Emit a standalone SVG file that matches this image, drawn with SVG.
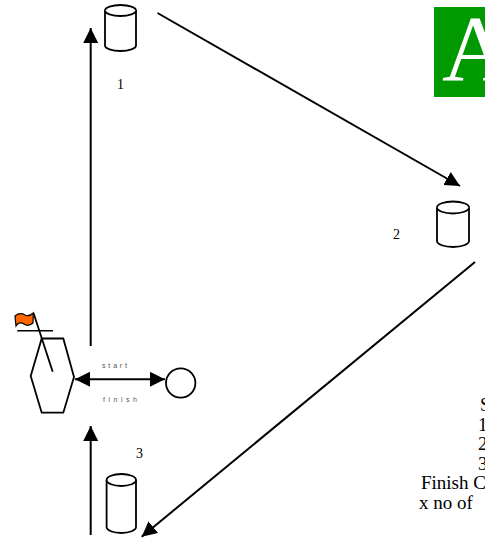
<svg xmlns="http://www.w3.org/2000/svg" width="485" height="545" viewBox="0 0 485 545">
<defs>
<style>
.cyl{fill:#fff;stroke:#000;stroke-width:1.8}
.conn{fill:none;stroke:#000;stroke-width:2}
.lbl{font-family:"Liberation Serif","Times New Roman",serif;font-size:14px;fill:#000}
.note{font-family:"Liberation Serif","Times New Roman",serif;font-size:19px;fill:#000}
.tiny{font-family:"Liberation Sans",Arial,sans-serif;font-size:7px;fill:#555}
</style>
<marker id="ah" markerUnits="userSpaceOnUse" markerWidth="16" markerHeight="16" refX="15" refY="7.5" orient="auto-start-reverse">
<path d="M0,0 L15,7.5 L0,15 z" fill="#000"/>
</marker>
</defs>
<rect width="485" height="545" fill="#fff"/>

<g id="logo">
<rect x="434" y="7" width="51" height="90" fill="#009900"/>
<text x="442" y="80" font-family="'Liberation Serif','Times New Roman',serif" font-size="94" fill="#fff">A</text>
</g>

<g id="connectors">
<line class="conn" x1="90.7" y1="346" x2="90.7" y2="28" marker-end="url(#ah)"/>
<line class="conn" x1="157.5" y1="13" x2="460" y2="186" marker-end="url(#ah)"/>
<line class="conn" x1="475" y1="262" x2="141.7" y2="536.7" marker-end="url(#ah)"/>
<line class="conn" x1="90.7" y1="535" x2="90.7" y2="426" marker-end="url(#ah)"/>
<line class="conn" x1="75" y1="379.3" x2="165" y2="379.3" marker-start="url(#ah)" marker-end="url(#ah)"/>
</g>

<g id="cone1">
<path class="cyl" d="M105,10.5 A15.5,5.5 0 0 1 136,10.5 L136,45.5 A15.5,5.5 0 0 1 105,45.5 Z"/>
<path class="cyl" fill="none" d="M105,10.5 A15.5,5.5 0 0 0 136,10.5"/>
<text class="lbl" x="117" y="89">1</text>
</g>

<g id="cone2">
<path class="cyl" d="M437,207.5 A16,6 0 0 1 469,207.5 L469,241 A16,6 0 0 1 437,241 Z"/>
<path class="cyl" fill="none" d="M437,207.5 A16,6 0 0 0 469,207.5"/>
<text class="lbl" x="393" y="239">2</text>
</g>

<g id="cone3">
<path class="cyl" d="M106.6,480 A14.7,6 0 0 1 136,480 L136,527 A14.7,6 0 0 1 106.6,527 Z"/>
<path class="cyl" fill="none" d="M106.6,480 A14.7,6 0 0 0 136,480"/>
<text class="lbl" x="136" y="458">3</text>
</g>

<g id="hole">
<circle cx="180.7" cy="383" r="14.7" fill="#fff" stroke="#000" stroke-width="1.8"/>
</g>

<g id="tee">
<polygon points="41.7,338.5 63.3,338.5 74,377 63.3,412.7 41.7,412.7 30.7,376" fill="#fff" stroke="#000" stroke-width="1.8"/>
<line x1="17.3" y1="330.7" x2="53" y2="330.7" stroke="#000" stroke-width="1.5"/>
<line x1="33.5" y1="313" x2="52.7" y2="371.7" stroke="#000" stroke-width="1.8"/>
<path d="M15,316 Q20,312 25,315 Q29,317 33.3,313 L33,323 Q28,327 24,324 Q19,321 16,326 Z" fill="#ff6600" stroke="#000" stroke-width="1.2"/>
<text class="tiny" x="102" y="368" textLength="25" lengthAdjust="spacing">start</text>
<text class="tiny" x="103" y="402" textLength="34" lengthAdjust="spacing">finish</text>
</g>

<g id="notes">
<text class="note" x="480" y="411">S</text>
<text class="note" x="478" y="430.5">1</text>
<text class="note" x="478" y="450">2</text>
<text class="note" x="478" y="469.5">3</text>
<text class="note" x="421" y="489">Finish C</text>
<text class="note" x="419" y="508.5">x no of</text>
</g>
</svg>
